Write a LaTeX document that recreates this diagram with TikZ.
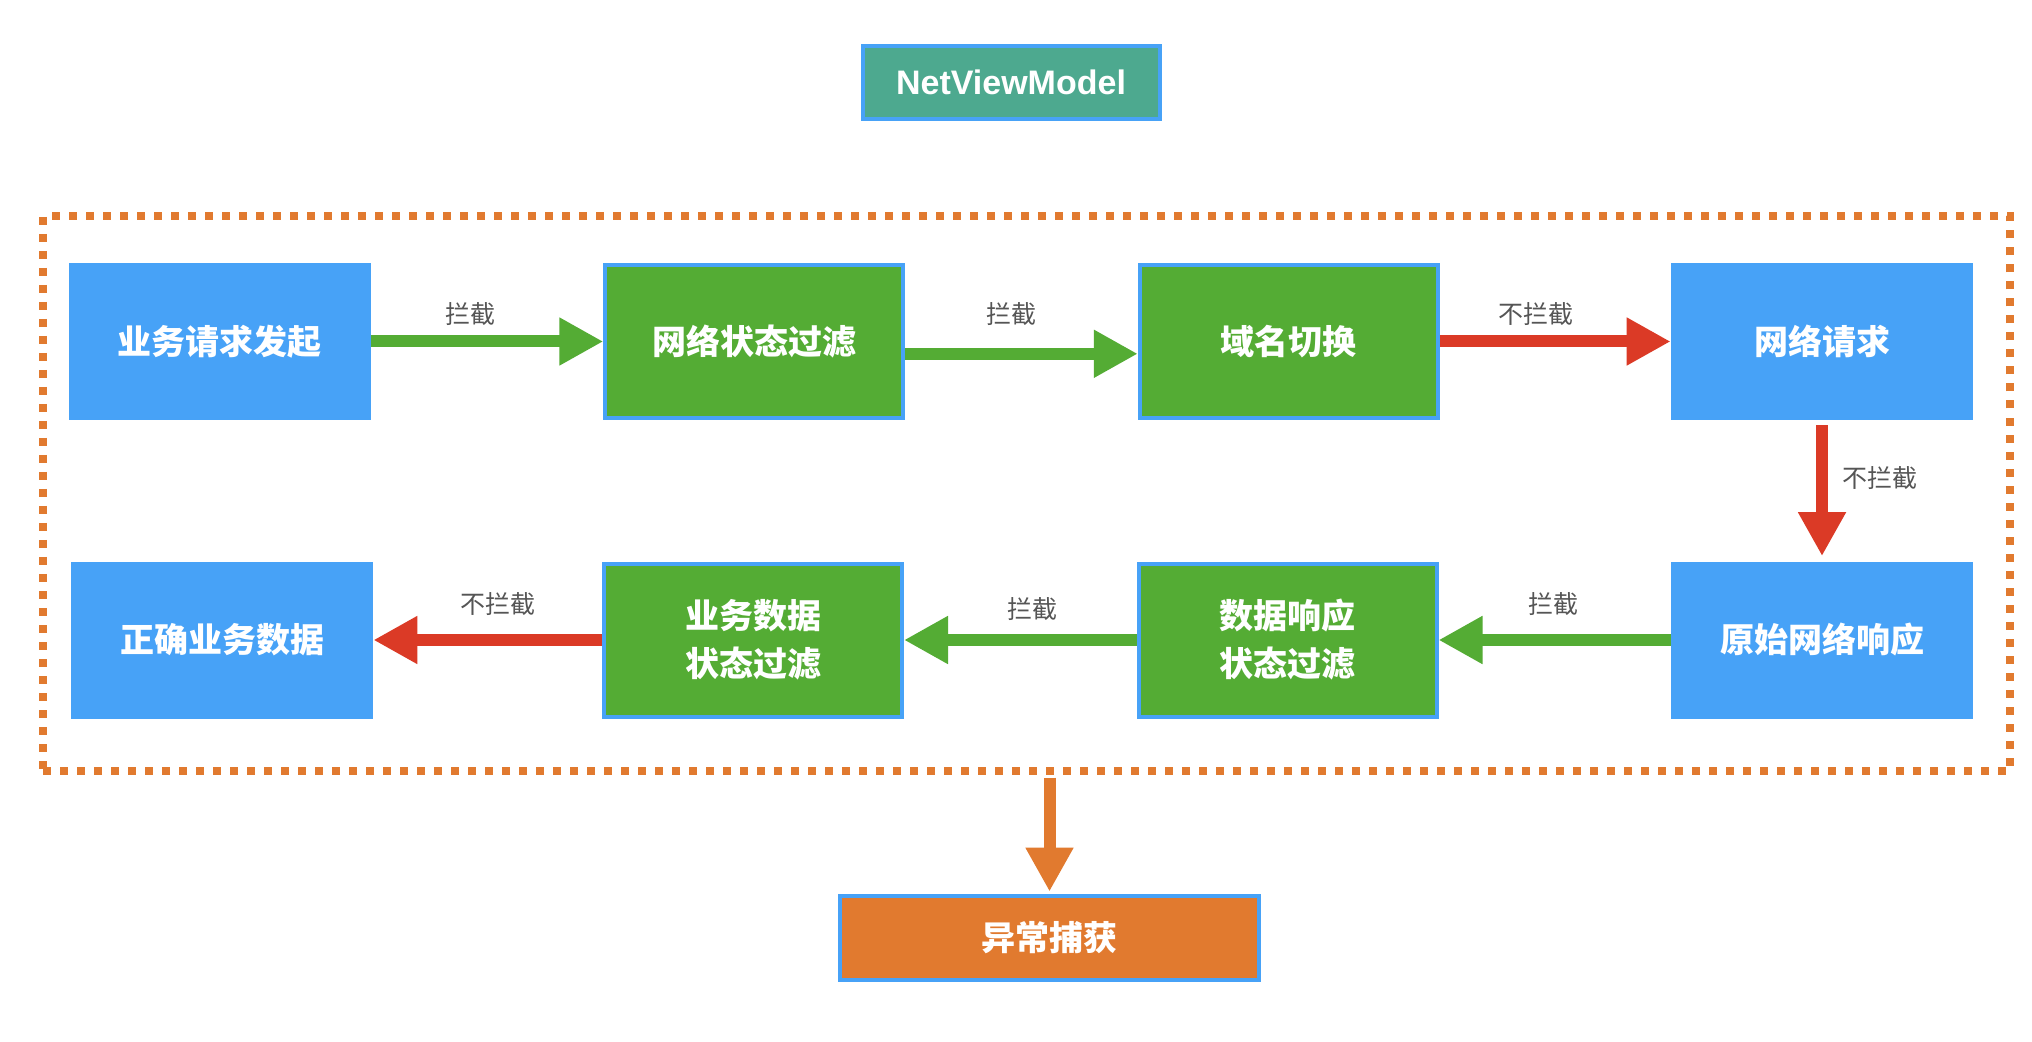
\documentclass[tikz,border=0pt]{standalone}
\usepackage{fontspec}
\setmainfont{Liberation Sans}
\newfontfamily\cjk{Noto Sans CJK SC}
\usetikzlibrary{arrows.meta}
\definecolor{boxblue}{HTML}{47A2F7}
\definecolor{boxgreen}{HTML}{54AC34}
\definecolor{nvteal}{HTML}{4DA98F}
\definecolor{nvorange}{HTML}{E17A2F}
\definecolor{nvred}{HTML}{DB3A26}
\definecolor{lblgray}{HTML}{555555}
\begin{document}
\begin{tikzpicture}[x=0.5pt,y=-0.5pt,
  boxtext/.style={inner sep=0pt, text=white, align=center,
    font={\cjk\bfseries\fontsize{17pt}{24pt}\selectfont}},
  bluebox/.style={boxtext, fill=boxblue, draw=none, minimum width=151pt, minimum height=78.5pt},
  greenbox/.style={boxtext, fill=boxgreen, draw=boxblue, line width=2pt, minimum width=149pt, minimum height=76.5pt},
  lbl/.style={text=lblgray, inner sep=0pt, font={\cjk\fontsize{12.5pt}{15pt}\selectfont}},
  fatarrow/.style={line width=6pt, -{Triangle[length=22pt,width=22.5pt]}},
  garrow/.style={fatarrow, draw=boxgreen},
  rarrow/.style={fatarrow, draw=nvred},
  oarrow/.style={fatarrow, draw=nvorange}
]
\fill[white] (0,0) rectangle (2032,1042);
\useasboundingbox (0,0) rectangle (2032,1042);

% frame
\node[draw=nvorange, line width=4pt, dash pattern=on 4pt off 4.5pt,
      minimum width=983.25pt, minimum height=277.25pt, inner sep=0pt] (frame) at (1026.25,493.75) {};

% title
\node[fill=nvteal, draw=boxblue, line width=2pt, minimum width=148.5pt, minimum height=36.5pt,
      inner sep=0pt, text=white, font={\bfseries\fontsize{17pt}{20pt}\selectfont}] (nv) at (1011,82.7) {NetViewModel};

% row 1
\node[bluebox]  (b1) at (219.6,341.5) {业务请求发起};
\node[greenbox] (b2) at (754.3,341.5) {网络状态过滤};
\node[greenbox] (b3) at (1288.8,341.5) {域名切换};
\node[bluebox]  (b4) at (1822,341.5) {网络请求};

% row 2
\node[bluebox]  (c4) at (1822,640) {原始网络响应};
\node[greenbox] (c3) at (1287.5,640) {数据响应\\状态过滤};
\node[greenbox] (c2) at (753,640) {业务数据\\状态过滤};
\node[bluebox]  (c1) at (222,640) {正确业务数据};

% catch
\node[boxtext, fill=nvorange, draw=boxblue, line width=2pt, minimum width=209.5pt, minimum height=42pt] (catch) at (1049.5,938) {异常捕获};

% connectors
\draw[garrow] (b1.east) -- (b2.west);
\draw[garrow] ([yshift=-6.15pt]b2.east) -- ([yshift=-6.15pt]b3.west);
\draw[rarrow] (b3.east) -- (b4.west);
\draw[rarrow, shorten <=2.5pt, shorten >=2.5pt] (b4.south) -- (c4.north);
\draw[garrow] (c4.west) -- (c3.east);
\draw[garrow] (c3.west) -- (c2.east);
\draw[rarrow] (c2.west) -- (c1.east);
\draw[oarrow, shorten <=1.3pt, shorten >=1.2pt] (frame.south -| catch.north) -- (catch.north);

% labels
\node[lbl] (l1) at (470,313.6) {拦截};
\node[lbl] (l2) at (1011,313.6) {拦截};
\node[lbl] (l3) at (1535.6,313.6) {不拦截};
\node[lbl] (l4) at (1880,478) {不拦截};
\node[lbl] (l5) at (1553.8,604) {拦截};
\node[lbl] (l6) at (1032.8,609) {拦截};
\node[lbl] (l7) at (497.6,604) {不拦截};
\end{tikzpicture}
\end{document}
